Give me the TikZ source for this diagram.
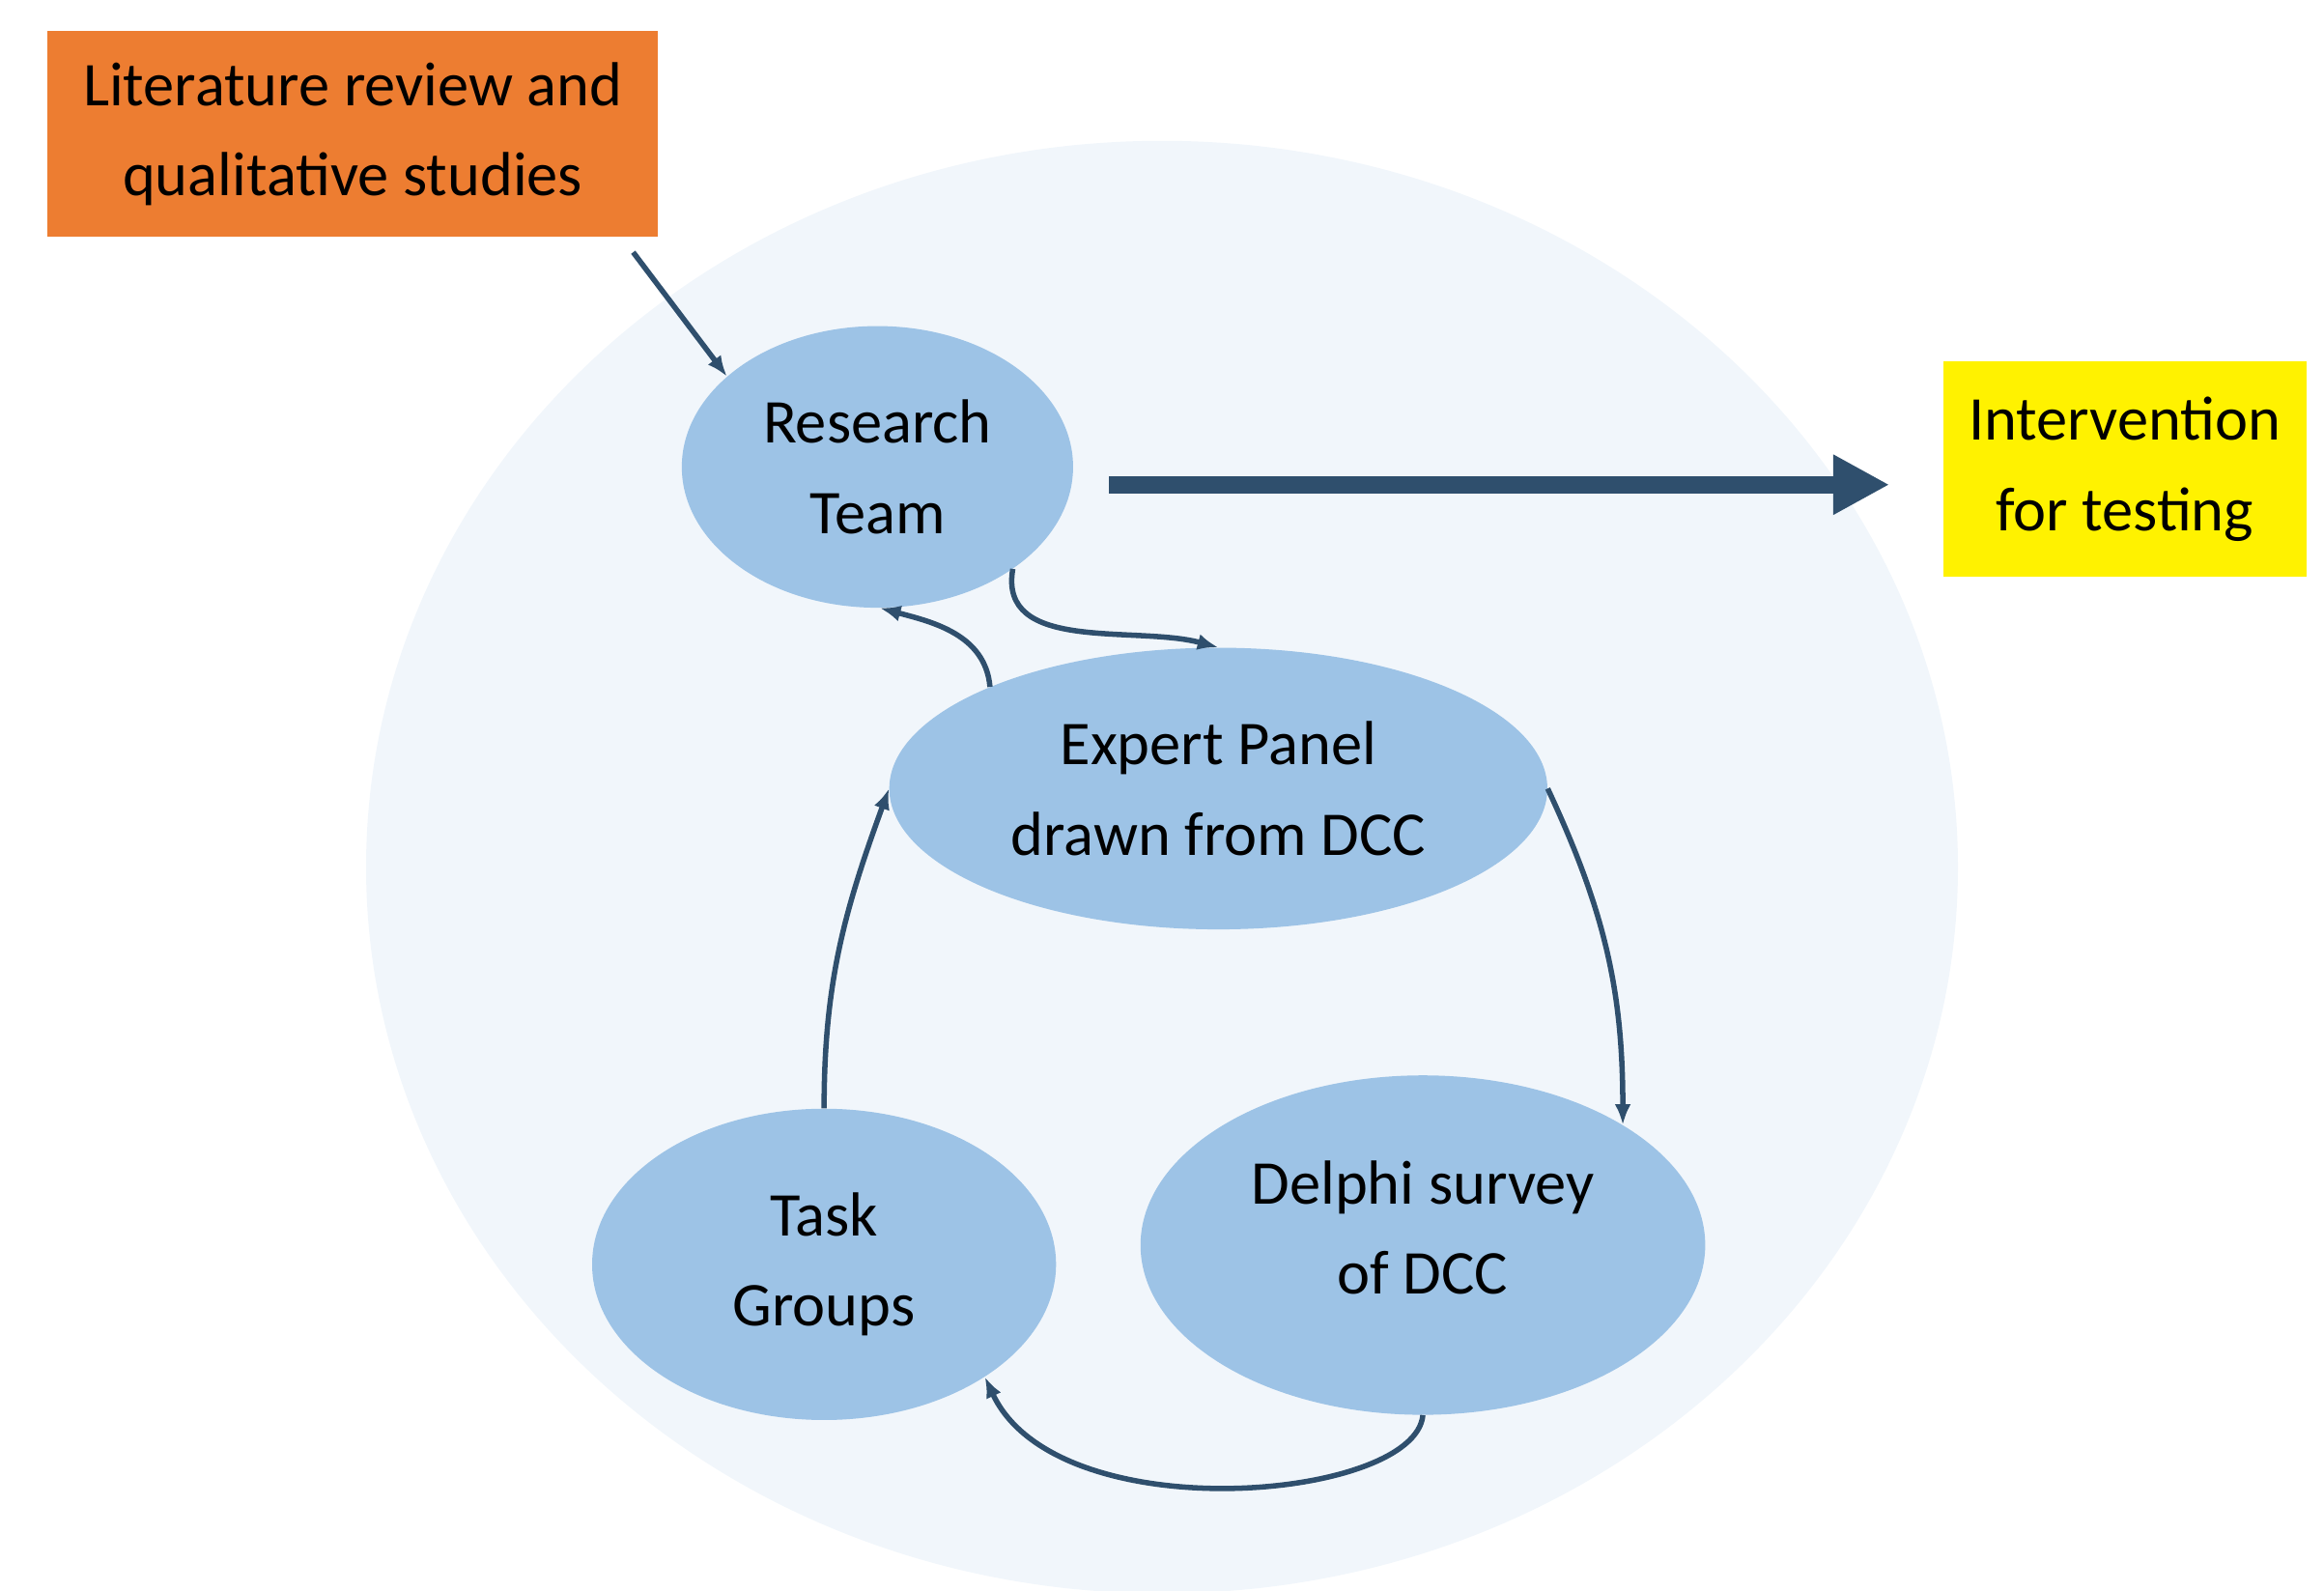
\documentclass[tikz,border=0pt]{standalone}
\usepackage{fontspec}
\setmainfont{Carlito}
\usepackage{xcolor}
\usepackage{tikz}
\usetikzlibrary{arrows.meta}
\usetikzlibrary{shapes.geometric}
\usetikzlibrary{calc}
\definecolor{bgblue}{HTML}{F1F6FB}
\definecolor{nodeblue}{HTML}{9DC3E6}
\definecolor{arrowblue}{HTML}{2F4F6D}
\definecolor{litorange}{HTML}{ED7D31}

\begin{document}
\begin{tikzpicture}[x=1pt,y=1pt,
  txt/.style={font=\fontsize{42}{61}\selectfont,align=center,inner sep=0pt},
  blob/.style={txt,ellipse,fill=nodeblue},
  flow/.style={arrowblue,line width=3.6pt,-{Latex[length=14pt,width=11pt]}},
  bigarrow/.style={arrowblue,line width=12pt,-{Triangle[length=38pt,width=38pt]}}]
\useasboundingbox (0,0) rectangle (1568,1073);
%% light circle behind the cycle
\fill[bgblue] (784,488) ellipse [x radius=537,y radius=490];
%% boxes
\node[txt,fill=litorange,minimum width=412pt,minimum height=139pt] (lit) at (238,982.5) {Literature review and\\qualitative studies};
\node[txt,fill=yellow,minimum width=245pt,minimum height=145pt] (iv) at (1433.5,756.5) {Intervention\\for testing};
%% ellipses
\node[blob,minimum width=264pt,minimum height=190pt] (rt) at (592,758) {Research\\Team};
\node[blob,minimum width=444pt,minimum height=190pt] (ep) at (822,541) {Expert Panel\\drawn from DCC};
\node[blob,minimum width=313pt,minimum height=210pt] (tg) at (556,220) {Task\\Groups};
\node[blob,minimum width=381pt,minimum height=229pt] (ds) at (960,233) {Delphi survey\\of DCC\\[-37pt]};
%% connectors
\draw[flow] ([shift={(-17,-10)}]lit.south east) -- (rt.149);
\draw[bigarrow] ([shift={(24,-12)}]rt.east) -- ([shift={(-36,-12)}]rt.east -| iv.west);
\draw[flow] (rt.-37) to[out=-100,in=165] (ep.north);
\draw[flow] (ep.156) to[out=95,in=-15] (rt.-89);
\draw[flow] (ep.east) to[out=-65,in=90] (ds.31);
\draw[flow] (ds.south) to[out=-95,in=-65,out looseness=0.5,in looseness=1] (tg.-35);
\draw[flow] (tg.north) to[out=90,in=-110] (ep.west);
\end{tikzpicture}
\end{document}
